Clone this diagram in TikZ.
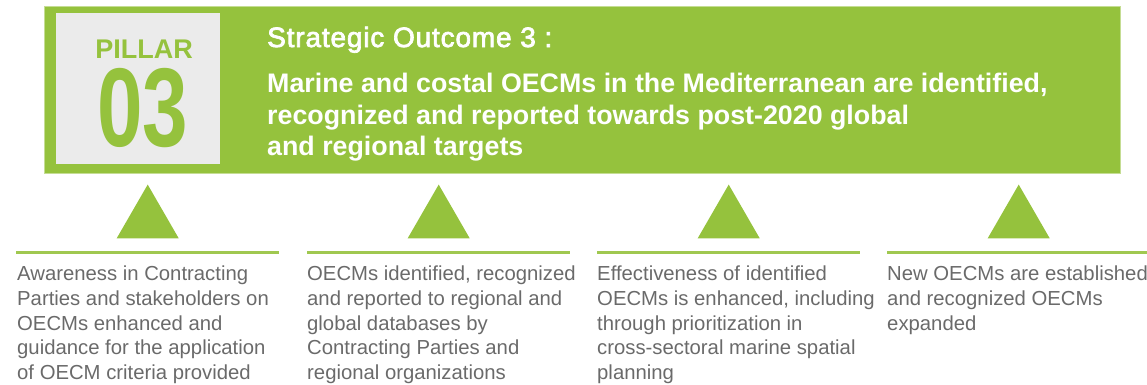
\documentclass[tikz,border=0pt]{standalone}
\usepackage{fontspec}
\setmainfont{Liberation Sans}
\newfontfamily\medfamily[BoldFont={Liberation Sans}, BoldFeatures={FakeBold=2.5, LetterSpace=3}]{Liberation Sans}
\usetikzlibrary{positioning}
\usetikzlibrary{shapes.geometric}
\definecolor{pgreen}{HTML}{95C23D}
\definecolor{pgray}{HTML}{EBEBEB}
\definecolor{ptext}{HTML}{6A6A6A}
\tikzset{
	banner/.style={fill=pgreen, draw=pgreen!55, line width=0.8pt, minimum width=1076pt, minimum height=167pt, inner sep=0pt},
	numbox/.style={fill=pgray, minimum width=164pt, minimum height=151pt, inner sep=0pt},
	sepbar/.style={fill=pgreen!90, minimum width=263pt, minimum height=3pt, inner sep=0pt},
	tri/.style={regular polygon, regular polygon sides=3, fill=pgreen, minimum size=71.6pt, inner sep=0pt},
	desc/.style={align=left, inner sep=0pt, text=ptext, font=\fontsize{20.3}{24.7}\selectfont},
}

\begin{document}
\begin{tikzpicture}[x=1pt, y=-1pt]
	\useasboundingbox (0,0) rectangle (1147,384);
	\node (BAN) [banner, anchor=north west] at (44,6) {};
	\node (NUM) [numbox, anchor=north west] at (56,13) {};
	\node (PIL) [anchor=base, inner sep=0pt, text=pgreen, font=\fontsize{27}{27}\selectfont\bfseries] at (144,58) {PILLAR};
	\node (NO) [anchor=base, inner sep=0pt, text height=80pt, text depth=0pt, text=pgreen, font=\fontsize{112}{112}\selectfont\bfseries] at (142.5,146) {\scalebox{0.73}[1]{03}};
	\node (SO) [anchor=base west, inner sep=0pt, text=white, font=\fontsize{28}{28}\medfamily\bfseries] at (267,47) {Strategic Outcome 3 :};
	\node (GOAL) [anchor=north west, inner sep=0pt, align=left, text=white, font=\fontsize{26.8}{31.5}\selectfont\bfseries] at (267,73)
		{Marine and costal OECMs in the Mediterranean are identified,\\ recognized and reported towards post-2020 global\\ and regional targets};

	\node (S1) [sepbar, anchor=north west] at (16,250.5) {};
	\node (S2) [sepbar, anchor=north west] at (307,250.5) {};
	\node (S3) [sepbar, anchor=north west] at (597,250.5) {};
	\node (S4) [sepbar, anchor=north west] at (887,250.5) {};

	\node (T1) [tri, above=12pt of S1] {};
	\node (T2) [tri, above=12pt of S2] {};
	\node (T3) [tri, above=12pt of S3] {};
	\node (T4) [tri, above=12pt of S4] {};

	\node (C1) [desc, below right=12pt and 1pt of S1.south west] {Awareness in Contracting\\ Parties and stakeholders on\\ OECMs enhanced and\\ guidance for the application\\ of OECM criteria provided};
	\node (C2) [desc, below right=12pt and 0pt of S2.south west] {OECMs identified, recognized\\ and reported to regional and\\ global databases by\\ Contracting Parties and\\ regional organizations};
	\node (C3) [desc, below right=12pt and 0pt of S3.south west] {Effectiveness of identified\\ OECMs is enhanced, including\\ through prioritization in\\ cross-sectoral marine spatial\\ planning};
	\node (C4) [desc, below right=12pt and 0pt of S4.south west] {New OECMs are established\\ and recognized OECMs\\ expanded};
\end{tikzpicture}
\end{document}
